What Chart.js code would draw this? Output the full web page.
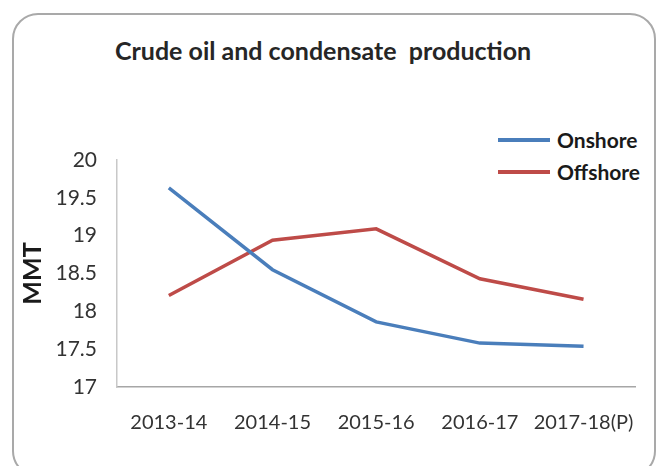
<!DOCTYPE html>
<html>
<head>
<meta charset="utf-8">
<script src="https://cdn.jsdelivr.net/npm/chart.js@4"></script>
<style>
  body { margin: 0; background: #fff; }
  #wrap { position: relative; width: 658px; height: 466px; overflow: hidden; }
  #frame {
    position: absolute; left: 12px; top: 13px; width: 640px; height: 460px;
    border: 2px solid #a9a9a9; border-radius: 26px;
  }
  #title {
    position: absolute; left: 115px; top: 35px; width: 420px;
    font: bold 25px Lato, sans-serif; color: #262626; white-space: nowrap;
  }
  .leg { position: absolute; left: 498px; height: 26px; font: bold 21px Lato, sans-serif; color: #1a1a1a; }
  .leg span.ln { position: absolute; left: 0; top: 11px; width: 52px; height: 3.5px; }
  .leg span.tx { position: absolute; left: 59px; top: 0; line-height: 26px; white-space: nowrap; }
  canvas { position: absolute; left: 0; top: 0; }
</style>
</head>
<body>
<div id="wrap">
  <div id="frame"></div>
  <div id="title">Crude oil and condensate&nbsp; production</div>
  <div id="legend"></div>
  <canvas id="myChart" width="658" height="466"></canvas>
</div>
<script>
  const years = ['2013-14', '2014-15', '2015-16', '2016-17', '2017-18(P)'];
  const onshore = [19.63, 18.55, 17.86, 17.58, 17.54];
  const offshore = [18.21, 18.94, 19.09, 18.43, 18.16];
  const yTicks = [17, 17.5, 18, 18.5, 19, 19.5, 20];

  const blue = '#4a7ebb';
  const red = '#be4b48';

  // legend on the right, stacked
  let legend = document.getElementById('legend');
  [['Onshore', blue, 127], ['Offshore', red, 159]].forEach(item => {
    let d = document.createElement('div');
    d.className = 'leg';
    d.style.top = item[2] + 'px';
    d.innerHTML = `<span class="ln" style="background:${item[1]}"></span><span class="tx">${item[0]}</span>`;
    legend.appendChild(d);
  });

  const ctx = document.getElementById('myChart');

  new Chart(ctx, {
    type: 'line',
    data: {
      labels: years,
      datasets: [
        { label: 'Onshore', data: onshore, borderColor: blue, backgroundColor: blue },
        { label: 'Offshore', data: offshore, borderColor: red, backgroundColor: red }
      ]
    },
    options: {
      responsive: false,
      animation: false,
      layout: { padding: { top: 160, right: 6, bottom: 0, left: 0 } },
      elements: {
        line: { borderWidth: 3.5, tension: 0 },
        point: { radius: 0 }
      },
      plugins: {
        legend: { display: false },
        title: { display: false },
        tooltip: { enabled: false }
      },
      scales: {
        x: {
          offset: true,
          grid: { display: false, drawTicks: false },
          border: { display: true, color: '#a6a6a6', width: 1.5 },
          ticks: { color: '#333', font: { family: 'Lato', size: 20 }, padding: 24, maxRotation: 0 },
          afterFit: scale => { scale.height = 79; }
        },
        y: {
          min: 17,
          max: 20,
          afterBuildTicks: scale => { scale.ticks = yTicks.map(v => ({ value: v })); },
          grid: { display: false, drawTicks: false },
          border: { display: true, color: '#c8c8c8', width: 1.5 },
          ticks: {
            color: '#333',
            font: { family: 'Lato', size: 21 },
            padding: 20,
            callback: v => String(v)
          },
          title: {
            display: true,
            text: 'MMT',
            color: '#1a1a1a',
            font: { family: 'Lato', size: 25, weight: 'bold' },
            padding: { top: 18, bottom: 0 }
          },
          afterFit: scale => { scale.width = 117; }
        }
      }
    }
  });
</script>
</body>
</html>
